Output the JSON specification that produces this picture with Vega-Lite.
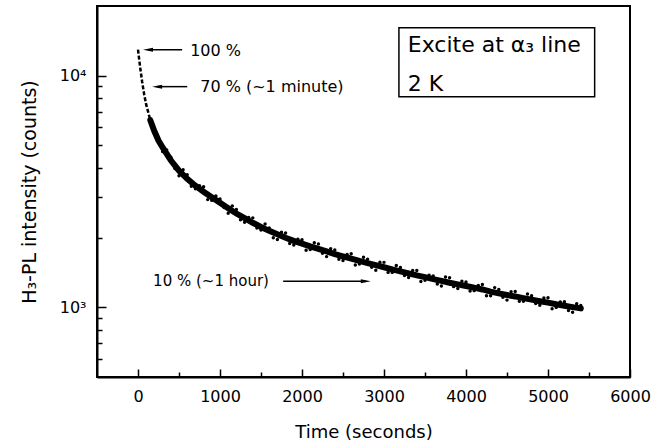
{
  "$schema": "https://vega.github.io/schema/vega-lite/v6.json",
  "width": 533,
  "height": 371,
  "autosize": {"type": "none"},
  "padding": {"left": 97, "top": 6, "right": 39, "bottom": 70},
  "background": "white",
  "config": {
    "font": "DejaVu Sans",
    "view": {"stroke": "black", "strokeWidth": 2},
    "axis": {
      "grid": false,
      "domainColor": "black",
      "domainWidth": 2,
      "tickColor": "black",
      "tickWidth": 1.5,
      "labelColor": "black",
      "titleColor": "black",
      "labelFont": "DejaVu Sans",
      "titleFont": "DejaVu Sans",
      "labelFontSize": 16,
      "titleFontSize": 18,
      "titleFontWeight": "normal"
    }
  },
  "datasets": {
    "curve": [
      {"t": 0, "counts": 12950}, {"t": 25, "counts": 10960}, {"t": 50, "counts": 9440}, {"t": 75, "counts": 8318},
      {"t": 100, "counts": 7499}, {"t": 150, "counts": 6427}, {"t": 200, "counts": 5754}, {"t": 250, "counts": 5248},
      {"t": 300, "counts": 4898}, {"t": 400, "counts": 4315}, {"t": 500, "counts": 3890}, {"t": 600, "counts": 3589},
      {"t": 700, "counts": 3350}, {"t": 800, "counts": 3155}, {"t": 900, "counts": 2985}, {"t": 1000, "counts": 2825},
      {"t": 1100, "counts": 2679}, {"t": 1200, "counts": 2541}, {"t": 1300, "counts": 2427}, {"t": 1400, "counts": 2317},
      {"t": 1500, "counts": 2223}, {"t": 1600, "counts": 2138}, {"t": 1700, "counts": 2065}, {"t": 1800, "counts": 1995},
      {"t": 1900, "counts": 1936}, {"t": 2000, "counts": 1884}, {"t": 2100, "counts": 1832}, {"t": 2200, "counts": 1786},
      {"t": 2300, "counts": 1742}, {"t": 2400, "counts": 1698}, {"t": 2500, "counts": 1660}, {"t": 2600, "counts": 1622},
      {"t": 2700, "counts": 1585}, {"t": 2800, "counts": 1552}, {"t": 2900, "counts": 1521}, {"t": 3000, "counts": 1489},
      {"t": 3100, "counts": 1459}, {"t": 3200, "counts": 1429}, {"t": 3300, "counts": 1400}, {"t": 3400, "counts": 1374},
      {"t": 3500, "counts": 1349}, {"t": 3600, "counts": 1324}, {"t": 3700, "counts": 1300}, {"t": 3800, "counts": 1276},
      {"t": 3900, "counts": 1256}, {"t": 4000, "counts": 1236}, {"t": 4100, "counts": 1216}, {"t": 4200, "counts": 1194},
      {"t": 4300, "counts": 1169}, {"t": 4400, "counts": 1148}, {"t": 4500, "counts": 1130}, {"t": 4600, "counts": 1114},
      {"t": 4700, "counts": 1096}, {"t": 4800, "counts": 1079}, {"t": 4900, "counts": 1062}, {"t": 5000, "counts": 1047},
      {"t": 5100, "counts": 1030}, {"t": 5200, "counts": 1016}, {"t": 5300, "counts": 1002}, {"t": 5400, "counts": 989}
    ],
    "scatter": [
      {"t": 350, "counts": 4784}, {"t": 450, "counts": 3977}, {"t": 550, "counts": 3927}, {"t": 650, "counts": 3331},
      {"t": 750, "counts": 3350}, {"t": 850, "counts": 2917}, {"t": 950, "counts": 3021}, {"t": 1050, "counts": 2697},
      {"t": 1150, "counts": 2741}, {"t": 1250, "counts": 2385}, {"t": 1350, "counts": 2443}, {"t": 1450, "counts": 2202},
      {"t": 1550, "counts": 2289}, {"t": 1650, "counts": 1996}, {"t": 1750, "counts": 2111}, {"t": 1850, "counts": 1886},
      {"t": 1950, "counts": 1967}, {"t": 2050, "counts": 1765}, {"t": 2150, "counts": 1899}, {"t": 2250, "counts": 1711},
      {"t": 2350, "counts": 1789}, {"t": 2450, "counts": 1612}, {"t": 2550, "counts": 1690}, {"t": 2650, "counts": 1523},
      {"t": 2750, "counts": 1646}, {"t": 2850, "counts": 1490}, {"t": 2950, "counts": 1565}, {"t": 3050, "counts": 1415},
      {"t": 3150, "counts": 1516}, {"t": 3250, "counts": 1372}, {"t": 3350, "counts": 1442}, {"t": 3450, "counts": 1293},
      {"t": 3550, "counts": 1376}, {"t": 3650, "counts": 1260}, {"t": 3750, "counts": 1352}, {"t": 3850, "counts": 1228},
      {"t": 3950, "counts": 1296}, {"t": 4050, "counts": 1177}, {"t": 4150, "counts": 1241}, {"t": 4250, "counts": 1122},
      {"t": 4350, "counts": 1216}, {"t": 4450, "counts": 1105}, {"t": 4550, "counts": 1167}, {"t": 4650, "counts": 1061},
      {"t": 4750, "counts": 1141}, {"t": 4850, "counts": 1038}, {"t": 4950, "counts": 1096}, {"t": 5050, "counts": 986},
      {"t": 5150, "counts": 1054}, {"t": 5250, "counts": 969}, {"t": 5350, "counts": 1035},
      {"t": 300, "counts": 4702}, {"t": 400, "counts": 4444}, {"t": 500, "counts": 3696}, {"t": 600, "counts": 3733},
      {"t": 700, "counts": 3250}, {"t": 800, "counts": 3313}, {"t": 900, "counts": 2895}, {"t": 1000, "counts": 2938},
      {"t": 1100, "counts": 2545}, {"t": 1200, "counts": 2643}, {"t": 1300, "counts": 2330}, {"t": 1400, "counts": 2433},
      {"t": 1500, "counts": 2156}, {"t": 1600, "counts": 2202}, {"t": 1700, "counts": 1962}, {"t": 1800, "counts": 2095},
      {"t": 1900, "counts": 1859}, {"t": 2000, "counts": 1959}, {"t": 2100, "counts": 1777}, {"t": 2200, "counts": 1875},
      {"t": 2300, "counts": 1655}, {"t": 2400, "counts": 1766}, {"t": 2500, "counts": 1594}, {"t": 2600, "counts": 1703},
      {"t": 2700, "counts": 1537}, {"t": 2800, "counts": 1614}, {"t": 2900, "counts": 1445}, {"t": 3000, "counts": 1563},
      {"t": 3100, "counts": 1415}, {"t": 3200, "counts": 1486}, {"t": 3300, "counts": 1344}, {"t": 3400, "counts": 1443},
      {"t": 3500, "counts": 1309}, {"t": 3600, "counts": 1364}, {"t": 3700, "counts": 1235}, {"t": 3800, "counts": 1340},
      {"t": 3900, "counts": 1206}, {"t": 4000, "counts": 1285}, {"t": 4100, "counts": 1180}, {"t": 4200, "counts": 1254},
      {"t": 4300, "counts": 1122}, {"t": 4400, "counts": 1194}, {"t": 4500, "counts": 1074}, {"t": 4600, "counts": 1170},
      {"t": 4700, "counts": 1063}, {"t": 4800, "counts": 1122}, {"t": 4900, "counts": 1020}, {"t": 5000, "counts": 1099},
      {"t": 5100, "counts": 999}, {"t": 5200, "counts": 1057}, {"t": 5300, "counts": 952}, {"t": 5400, "counts": 1019}
    ],
    "shafts": [
      {"t": 122, "t2": 538, "counts": 12950},
      {"t": 233, "t2": 600, "counts": 8970},
      {"t": 1770, "t2": 2778, "counts": 1294}
    ],
    "heads": [
      {"t": 122, "counts": 12950, "dir": "left"},
      {"t": 233, "counts": 8970, "dir": "left"},
      {"t": 2778, "counts": 1294, "dir": "right"}
    ],
    "notes": [
      {"t": 636, "counts": 12800, "label": "100 %"},
      {"t": 759, "counts": 8900, "label": "70 % (~1 minute)"},
      {"t": 184, "counts": 1294, "label": "10 % (~1 hour)"}
    ],
    "box": [
      {"t": 3182, "t2": 5569, "counts": 16100, "counts2": 8120}
    ],
    "boxtext": [
      {"t": 3290, "counts": 12700, "label": "Excite at α₃ line"},
      {"t": 3290, "counts": 8620, "label": "2 K"}
    ]
  },
  "encoding": {
    "x": {
      "field": "t", "type": "quantitative",
      "scale": {"domain": [-500, 6000], "nice": false, "zero": false},
      "axis": {
        "title": "Time (seconds)",
        "format": "d",
        "values": [0, 500, 1000, 1500, 2000, 2500, 3000, 3500, 4000, 4500, 5000, 5500, 6000],
        "labelExpr": "datum.value % 1000 == 0 ? datum.label : ''",
        "tickSize": {"condition": {"test": "datum.value % 1000 == 0", "value": -8}, "value": -5},
        "labelPadding": 19,
        "titlePadding": 19,
        "labelFlush": false
      }
    },
    "y": {
      "field": "counts", "type": "quantitative",
      "scale": {"type": "log", "domain": [500, 20000], "nice": false},
      "axis": {
        "title": "H₃-PL intensity (counts)",
        "titleFontSize": 19,
        "values": [600, 700, 800, 900, 1000, 2000, 3000, 4000, 5000, 6000, 7000, 8000, 9000, 10000],
        "labelExpr": "datum.value == 10000 ? '10⁴' : datum.value == 1000 ? '10³' : ''",
        "tickSize": {"condition": {"test": "datum.value == 1000 || datum.value == 10000", "value": -9}, "value": -5},
        "labelPadding": 20,
        "titlePadding": 20
      }
    }
  },
  "layer": [
    {
      "data": {"name": "curve"},
      "transform": [{"filter": "datum.t <= 200"}],
      "mark": {"type": "line", "color": "black", "strokeWidth": 2.5, "strokeDash": [4, 2], "clip": true}
    },
    {
      "data": {"name": "curve"},
      "transform": [{"filter": "datum.t >= 150"}],
      "mark": {"type": "line", "color": "black", "strokeWidth": 6, "strokeCap": "round", "clip": true}
    },
    {
      "data": {"name": "scatter"},
      "mark": {"type": "circle", "color": "black", "size": 12, "opacity": 1, "clip": true}
    },
    {
      "data": {"name": "shafts"},
      "mark": {"type": "rule", "color": "black", "strokeWidth": 1.5},
      "encoding": {"x2": {"field": "t2"}}
    },
    {
      "data": {"name": "heads"},
      "mark": {"type": "point", "filled": true, "color": "black", "size": 100, "opacity": 1, "strokeWidth": 0},
      "encoding": {
        "shape": {"field": "dir", "type": "nominal", "scale": {"domain": ["left", "right"], "range": ["M -1 0 L 1 -0.4 L 1 0.4 Z", "M 1 0 L -1 -0.4 L -1 0.4 Z"]}, "legend": null}
      }
    },
    {
      "data": {"name": "notes"},
      "transform": [{"filter": "datum.label != '10 % (~1 hour)'"}],
      "mark": {"type": "text", "align": "left", "baseline": "middle", "fontSize": 16, "color": "black", "font": "DejaVu Sans"},
      "encoding": {"text": {"field": "label"}}
    },
    {
      "data": {"name": "notes"},
      "transform": [{"filter": "datum.label == '10 % (~1 hour)'"}],
      "mark": {"type": "text", "align": "left", "baseline": "middle", "fontSize": 15, "color": "black", "font": "DejaVu Sans"},
      "encoding": {"text": {"field": "label"}}
    },
    {
      "data": {"name": "box"},
      "mark": {"type": "rect", "fill": null, "stroke": "black", "strokeWidth": 1.5},
      "encoding": {"x2": {"field": "t2"}, "y2": {"field": "counts2"}}
    },
    {
      "data": {"name": "boxtext"},
      "mark": {"type": "text", "align": "left", "baseline": "alphabetic", "fontSize": 22, "color": "black", "font": "DejaVu Sans"},
      "encoding": {"text": {"field": "label"}}
    }
  ]
}
